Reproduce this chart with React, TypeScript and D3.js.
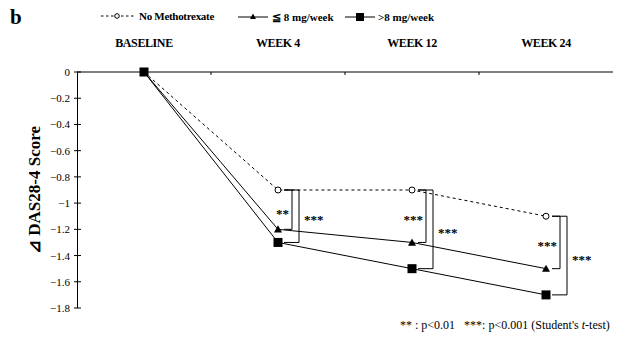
import React from "react";
import * as d3 from "d3";

const categories = ["BASELINE", "WEEK 4", "WEEK 12", "WEEK 24"];
const noMtx = [0, -0.9, -0.9, -1.1];
const lowDose = [0, -1.2, -1.3, -1.5];
const highDose = [0, -1.3, -1.5, -1.7];
const yTicks = [0, -0.2, -0.4, -0.6, -0.8, -1, -1.2, -1.4, -1.6, -1.8];

// significance brackets: category index, top value, bottom value, inner/outer, label, label side
const brackets = [
  { cat: 1, top: -0.9, bottom: -1.2, level: 0, label: "**", side: "left" },
  { cat: 1, top: -0.9, bottom: -1.3, level: 1, label: "***", side: "right" },
  { cat: 2, top: -0.9, bottom: -1.3, level: 0, label: "***", side: "left" },
  { cat: 2, top: -0.9, bottom: -1.5, level: 1, label: "***", side: "right" },
  { cat: 3, top: -1.1, bottom: -1.5, level: 0, label: "***", side: "left" },
  { cat: 3, top: -1.1, bottom: -1.7, level: 1, label: "***", side: "right" },
];

const W = 623;
const H = 337;
const serif = "'Liberation Serif', 'Times New Roman', serif";

export default function App() {
  const x = d3.scaleBand().domain(categories).range([77, 613]);
  const y = d3.scaleLinear().domain([-1.8, 0]).range([308, 72]);
  const cx = (i: number) => (x(categories[i]) as number) + x.bandwidth() / 2;

  const line = d3
    .line<number>()
    .x((_, i) => cx(i))
    .y((d) => y(d));

  const triangle = (px: number, py: number, s: number) =>
    `M${px},${py - s} L${px + s},${py + s * 0.8} L${px - s},${py + s * 0.8} Z`;

  return (
    <svg
      width={W}
      height={H}
      style={{ position: "absolute", left: 0, top: 0, background: "#fff" }}
      fontFamily={serif}
    >
      {/* panel letter */}
      <text x={10} y={24} fontSize={21} fontWeight="bold">b</text>

      {/* legend */}
      <g fontSize={11} fontWeight="bold">
        <line x1={101} x2={134} y1={16} y2={16} stroke="#000" strokeDasharray="2.5,2.5" />
        <circle cx={117} cy={16} r={2.3} fill="#fff" stroke="#000" />
        <text x={139} y={20} letterSpacing={-0.3}>No Methotrexate</text>

        <line x1={238} x2={268} y1={17} y2={17} stroke="#000" />
        <path d={triangle(253, 16.5, 3)} fill="#000" />
        <text x={272} y={21}>≦ 8 mg/week</text>

        <line x1={345} x2={375} y1={17} y2={17} stroke="#000" />
        <rect x={356} y={13} width={8} height={8} fill="#000" />
        <text x={378} y={21}>&gt;8 mg/week</text>
      </g>

      {/* category labels */}
      <g fontSize={12} fontWeight="bold" textAnchor="middle">
        {categories.map((c, i) => (
          <text key={c} x={cx(i)} y={47} letterSpacing={-0.4}>{c}</text>
        ))}
      </g>

      {/* x axis at zero */}
      <line x1={77} x2={613} y1={y(0)} y2={y(0)} stroke="#000" />
      {categories.slice(1).map((c) => (
        <line key={c} x1={x(c) as number} x2={x(c) as number} y1={y(0)} y2={y(0) + 3} stroke="#000" />
      ))}

      {/* y axis */}
      <line x1={77.5} x2={77.5} y1={y(0)} y2={y(-1.8)} stroke="#000" />
      <g fontSize={11} textAnchor="end">
        {yTicks.map((t) => (
          <g key={t}>
            <line x1={74} x2={81} y1={y(t)} y2={y(t)} stroke="#000" />
            <text x={70} y={y(t) + 4}>{t === 0 ? "0" : d3.format("")(t)}</text>
          </g>
        ))}
      </g>
      <text
        transform={`translate(40, ${(y(0) + y(-1.8)) / 2}) rotate(-90)`}
        textAnchor="middle"
        fontSize={17}
        fontWeight="bold"
      >
        ⊿ DAS28-4 Score
      </text>

      {/* series lines */}
      <path d={line(noMtx) as string} fill="none" stroke="#000" strokeDasharray="3,3" />
      <path d={line(lowDose) as string} fill="none" stroke="#000" />
      <path d={line(highDose) as string} fill="none" stroke="#000" />

      {/* markers */}
      {highDose.map((v, i) => (
        <rect key={"h" + i} x={cx(i) - 4.5} y={y(v) - 4.5} width={9} height={9} fill="#000" />
      ))}
      {lowDose.map((v, i) => (i === 0 ? null : <path key={"l" + i} d={triangle(cx(i), y(v), 4)} fill="#000" />))}
      {noMtx.map((v, i) =>
        i === 0 ? null : <circle key={"n" + i} cx={cx(i)} cy={y(v)} r={3} fill="#fff" stroke="#000" />
      )}

      {/* significance brackets */}
      <g fill="none" stroke="#000">
        {brackets.map((b, k) => {
          const bx = cx(b.cat) + (b.level === 0 ? 14 : 21);
          const armStart = cx(b.cat) + 6;
          return (
            <path
              key={k}
              d={`M${armStart},${y(b.top)} H${bx} V${y(b.bottom)} H${armStart}`}
            />
          );
        })}
      </g>
      <g fontSize={13} fontWeight="bold" style={{ fill: "#000" }}>
        {brackets.map((b, k) => {
          const bx = cx(b.cat) + (b.level === 0 ? 14 : 21);
          const my = (y(b.top) + y(b.bottom)) / 2 + 8;
          return (
            <text
              key={k}
              x={b.side === "left" ? bx - 3 : bx + 5}
              y={my}
              textAnchor={b.side === "left" ? "end" : "start"}
            >
              {b.label}
            </text>
          );
        })}
      </g>

      {/* footnote */}
      <text x={400} y={329} fontSize={12}>
        ** : p&lt;0.01{"\u00a0\u00a0\u00a0"}***: p&lt;0.001 (Student's <tspan fontStyle="italic">t</tspan>-test)
      </text>
    </svg>
  );
}
